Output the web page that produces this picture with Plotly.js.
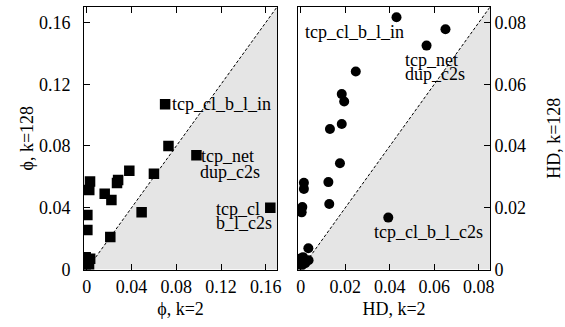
<!DOCTYPE html>
<html>
<head>
<meta charset="utf-8">
<script src="https://cdn.plot.ly/plotly-3.0.1.min.js"></script>
<style>html,body{margin:0;padding:0;background:#fff}</style>
</head>
<body>
<div id="chart" style="width:565px;height:327px"></div>
<script>
// ---- data (left panel: phi, right panel: HD) ----
const phiK2   = [0.070, 0.073, 0.098, 0.060, 0.038, 0.028, 0.027, 0.016, 0.022, 0.049, 0.021, 0.164,
                 0.0029, 0.0022, 0.0005, 0.0005, -0.001, 0.003, -0.001, 0.002, 0.0005];
const phiK128 = [0.107, 0.080, 0.074, 0.062, 0.064, 0.058, 0.056, 0.049, 0.045, 0.037, 0.021, 0.040,
                 0.057, 0.0515, 0.0353, 0.0256, 0.008, 0.007, 0.002, 0.003, 0.005];
const hdK2    = [0.043, 0.065, 0.0565, 0.0247, 0.0184, 0.0195, 0.0131, 0.0184, 0.0176, 0.0124, 0.0128, 0.0393,
                 0.0014, 0.0014, 0.0007, 0.0004, 0.0034, -0.0005, 0.001, 0.0, 0.002, 0.0035, 0.0005];
const hdK128  = [0.0817, 0.0778, 0.0725, 0.0641, 0.0568, 0.0544, 0.0455, 0.0471, 0.0344, 0.0283, 0.0212, 0.0168,
                 0.0281, 0.0261, 0.0202, 0.0185, 0.0069, 0.0035, 0.004, 0.001, 0.002, 0.003, 0.0015];

const phiTicks = [0, 0.04, 0.08, 0.12, 0.16];
const phiTickText = ['0', '0.04', '0.08', '0.12', '0.16'];
const hdTicks = [0, 0.02, 0.04, 0.06, 0.08];
const hdTickText = ['0', '0.02', '0.04', '0.06', '0.08'];

// point label lines: text, x, y (data units of each panel)
const phiLabelText = ['tcp_cl_b_l_in', 'tcp_net', 'dup_c2s', 'tcp_cl', 'b_l_c2s'];
const phiLabelX = [0.0753, 0.1012, 0.1005, 0.1146, 0.1146];
const phiLabelY = [0.1072, 0.0735, 0.0632, 0.0392, 0.0301];
const hdLabelText = ['tcp_cl_b_l_in', 'tcp_net', 'dup_c2s', 'tcp_cl_b_l_c2s'];
const hdLabelX = [0.0014, 0.0463, 0.0463, 0.0324];
const hdLabelY = [0.077, 0.0679, 0.0633, 0.01215];

const phiMax = 0.17, hdMax = 0.085;
const FONT = "'Liberation Serif', 'Times New Roman', serif";
const FS = 18;

const traces = [
  {x: phiK2, y: phiK128, xaxis: 'x', yaxis: 'y', type: 'scatter', mode: 'markers',
   marker: {symbol: 'square', size: 10.5, color: '#000'}, hoverinfo: 'skip'},
  {x: hdK2, y: hdK128, xaxis: 'x2', yaxis: 'y2', type: 'scatter', mode: 'markers',
   marker: {symbol: 'circle', size: 10, color: '#000'}, hoverinfo: 'skip'}
];

function ann(texts, xs, ys, xr, yr) {
  return texts.map((t, i) => ({text: t, x: xs[i], y: ys[i], xref: xr, yref: yr,
    xanchor: 'left', yanchor: 'middle', align: 'left', showarrow: false, borderpad: 0,
    font: {family: FONT, size: FS, color: '#000'}}));
}

const axisCommon = {
  showgrid: false, zeroline: false, showline: true, linecolor: '#000', linewidth: 1,
  ticks: 'inside', ticklen: 6, tickcolor: '#000', tickwidth: 1,
  tickfont: {family: FONT, size: FS, color: '#000'}, tickmode: 'array'
};

const layout = {
  width: 565, height: 327,
  margin: {l: 0, r: 0, t: 0, b: 0},
  paper_bgcolor: '#fff', plot_bgcolor: '#fff',
  showlegend: false,
  font: {family: FONT, size: FS, color: '#000'},
  xaxis: Object.assign({}, axisCommon, {
    domain: [84/565, 277/565], range: [-0.0025, phiMax], anchor: 'y',
    tickvals: phiTicks, ticktext: phiTickText, mirror: 'ticks', ticklabelstandoff: 1,
    title: {text: 'ϕ, k=2', font: {family: FONT, size: FS}, standoff: 6}
  }),
  yaxis: Object.assign({}, axisCommon, {
    domain: [57.5/327, 320/327], range: [0, phiMax], anchor: 'x',
    tickvals: phiTicks, ticktext: phiTickText, mirror: true, ticklabelstandoff: 9,
    title: {text: 'ϕ, k=128', font: {family: FONT, size: FS}, standoff: 0}
  }),
  xaxis2: Object.assign({}, axisCommon, {
    domain: [298/565, 490/565], range: [-0.00125, hdMax], anchor: 'y2',
    tickvals: hdTicks, ticktext: hdTickText, mirror: 'ticks', ticklabelstandoff: 1,
    title: {text: 'HD, k=2', font: {family: FONT, size: FS}, standoff: 6}
  }),
  yaxis2: Object.assign({}, axisCommon, {
    domain: [57.5/327, 320/327], range: [0, hdMax], anchor: 'x2', side: 'right',
    tickvals: hdTicks, ticktext: hdTickText, mirror: true, ticklabelstandoff: 0,
    title: {text: 'HD, k=128', font: {family: FONT, size: FS}, standoff: 22}
  }),
  shapes: [
    {type: 'path', xref: 'x', yref: 'y', layer: 'below',
     path: `M 0 0 L ${phiMax} ${phiMax} L ${phiMax} 0 Z`, fillcolor: '#e5e5e5', line: {width: 0}},
    {type: 'line', xref: 'x', yref: 'y', layer: 'below', x0: 0, y0: 0, x1: phiMax, y1: phiMax,
     line: {color: '#000', width: 1, dash: '3px,2px'}},
    {type: 'path', xref: 'x2', yref: 'y2', layer: 'below',
     path: `M 0 0 L ${hdMax} ${hdMax} L ${hdMax} 0 Z`, fillcolor: '#e5e5e5', line: {width: 0}},
    {type: 'line', xref: 'x2', yref: 'y2', layer: 'below', x0: 0, y0: 0, x1: hdMax, y1: hdMax,
     line: {color: '#000', width: 1, dash: '3px,2px'}}
  ],
  annotations: ann(phiLabelText, phiLabelX, phiLabelY, 'x', 'y')
    .concat(ann(hdLabelText, hdLabelX, hdLabelY, 'x2', 'y2'))
};

Plotly.newPlot('chart', traces, layout, {staticPlot: true, displayModeBar: false});
</script>
</body>
</html>
